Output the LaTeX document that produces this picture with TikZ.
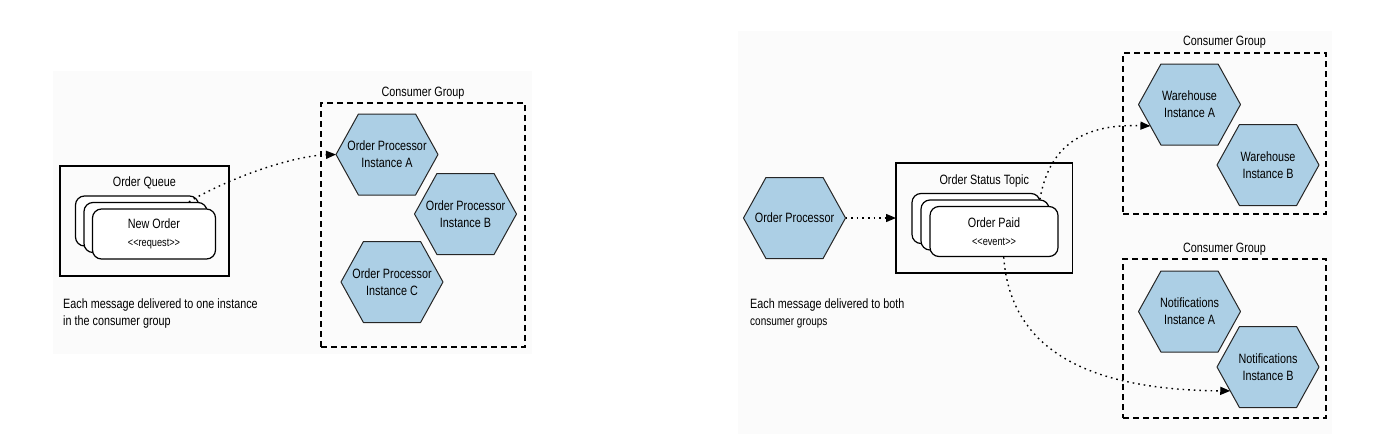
\documentclass[tikz,border=0pt]{standalone}
\usepackage{fontspec}
\setmainfont[FakeStretch=0.8]{Liberation Sans}
\usetikzlibrary{positioning,calc,backgrounds,arrows.meta}

\definecolor{hexblue}{RGB}{172,207,229}
\definecolor{panelgray}{RGB}{251,251,251}

\tikzset{
  hexbody/.style={draw=black!85, fill=hexblue, line width=1pt, line join=round},
  hextext/.style={align=center, inner sep=0pt, outer sep=0pt,
    minimum width=102pt, minimum height=81pt},
  card/.style={draw, fill=white, line width=1.2pt, rounded corners=9pt,
    minimum width=#1, minimum height=50pt, inner sep=0pt, align=center},
  card/.default=123pt,
  holder/.style={draw, line width=1.2pt, inner sep=0pt, outer sep=0pt},
  group/.style={draw, line width=1.6pt, dash pattern=on 6pt off 4pt,
    inner sep=0pt, outer sep=0pt},
  lbl/.style={inner sep=0pt},
  note/.style={inner sep=0pt, align=left, anchor=west},
  flow/.style={line width=1.4pt, dash pattern=on 1.6pt off 4pt,
    -{Triangle[length=10pt,width=8pt]}},
  panel/.style={fill=panelgray, draw=none}
}

% hexagon: name, centre, text
\newcommand{\hexnode}[3]{%
  \node[hextext] (#1) at (#2) {#3};
  \coordinate (#1-sw) at ($(#1.south west)!.22!(#1.south east)$);
  \begin{pgfonlayer}{background}
    \draw[hexbody] (#1.west) -- (#1-sw) -- ($(#1.south west)!.78!(#1.south east)$)
      -- (#1.east) -- ($(#1.north west)!.78!(#1.north east)$)
      -- ($(#1.north west)!.22!(#1.north east)$) -- cycle;
  \end{pgfonlayer}}
% stereotype text like <<event>>
\newcommand{\stereo}[1]{{\fontsize{11.5}{17}\selectfont
  \textless\kern0pt\textless#1\textgreater\kern0pt\textgreater}}

\begin{document}
\begin{tikzpicture}[x=1pt, y=-1pt, font=\fontsize{13.5}{17}\selectfont]
\useasboundingbox (0,0) rectangle (1378,434);

\begin{pgfonlayer}{background}
  \fill[panel] (53,71) rectangle (532,354);
  \fill[panel] (738,31) rectangle (1332,434);
\end{pgfonlayer}

% point to point: queue
\node[holder, minimum width=169pt, minimum height=110pt] (oq) at (144.5,221) {};
\node[lbl] (oq-lbl) at (144.5,183) {Order Queue};
\node[card] (oq-back) at (137,221) {};
\node[card] (oq-mid) at ($(oq-back)+(8.5,6.5)$) {};
\node[card] (oq-front) at ($(oq-mid)+(8.5,6.5)$) {New Order\\[1pt]\stereo{request}};

\node[group, minimum width=204pt, minimum height=244pt] (cg1) at (423,225) {};
\node[lbl, above=4pt of cg1] (cg1-lbl) {Consumer Group};
\hexnode{opa}{387,154.5}{Order Processor\\Instance A}
\hexnode{opb}{465.5,214}{Order Processor\\Instance B}
\hexnode{opc}{392,282}{Order Processor\\Instance C}

\draw[flow] ($(oq-mid.north)!.7!(oq-mid.north east)$) .. controls (225,180) and (290,156) .. (opa.west);

\node[note] (note1) at (63,313.5) {Each message delivered to one instance\\in the consumer group};

% publish/subscribe: topic
\hexnode{op}{794.5,218}{Order Processor}
\node[holder, minimum width=176.5pt, minimum height=110pt] (ost) at (984.25,218) {};
\node[lbl] (ost-lbl) at (984.25,181) {Order Status Topic};
\node[card=128pt] (ost-back) at (976,218.5) {};
\node[card=128pt] (ost-mid) at ($(ost-back)+(9,6.5)$) {};
\node[card=128pt] (ost-front) at ($(ost-mid)+(9,6.5)$) {Order Paid\\[1pt]\stereo{event}};

\node[group, minimum width=203pt, minimum height=161pt] (cg2) at (1224.5,133.5) {};
\node[lbl, above=4pt of cg2] (cg2-lbl) {Consumer Group};
\hexnode{wa}{1189.5,104.5}{Warehouse\\Instance A}
\hexnode{wb}{1268,165}{Warehouse\\Instance B}

\node[group, minimum width=203pt, minimum height=159pt] (cg3) at (1224.5,338.5) {};
\node[lbl, above=4pt of cg3] (cg3-lbl) {Consumer Group};
\hexnode{na}{1189.5,311.5}{Notifications\\Instance A}
\hexnode{nb}{1268,367}{Notifications\\Instance B}

\draw[flow] (op.east) -- (ost.west);
\draw[flow] ($(ost-mid.north)!.85!(ost-mid.north east)$) .. controls (1050,140) and (1090,124) .. ($(wa.west)!.53!(wa-sw)$);
\draw[flow] ($(ost-front.south)!.15!(ost-front.south east)$) .. controls (1010,345) and (1080,390) .. ($(nb.west)!.59!(nb-sw)$);

\node[note] (note2) at (750,313.5) {Each message delivered to both\\{\fontsize{12.5}{17}\selectfont consumer groups}};
\end{tikzpicture}
\end{document}
